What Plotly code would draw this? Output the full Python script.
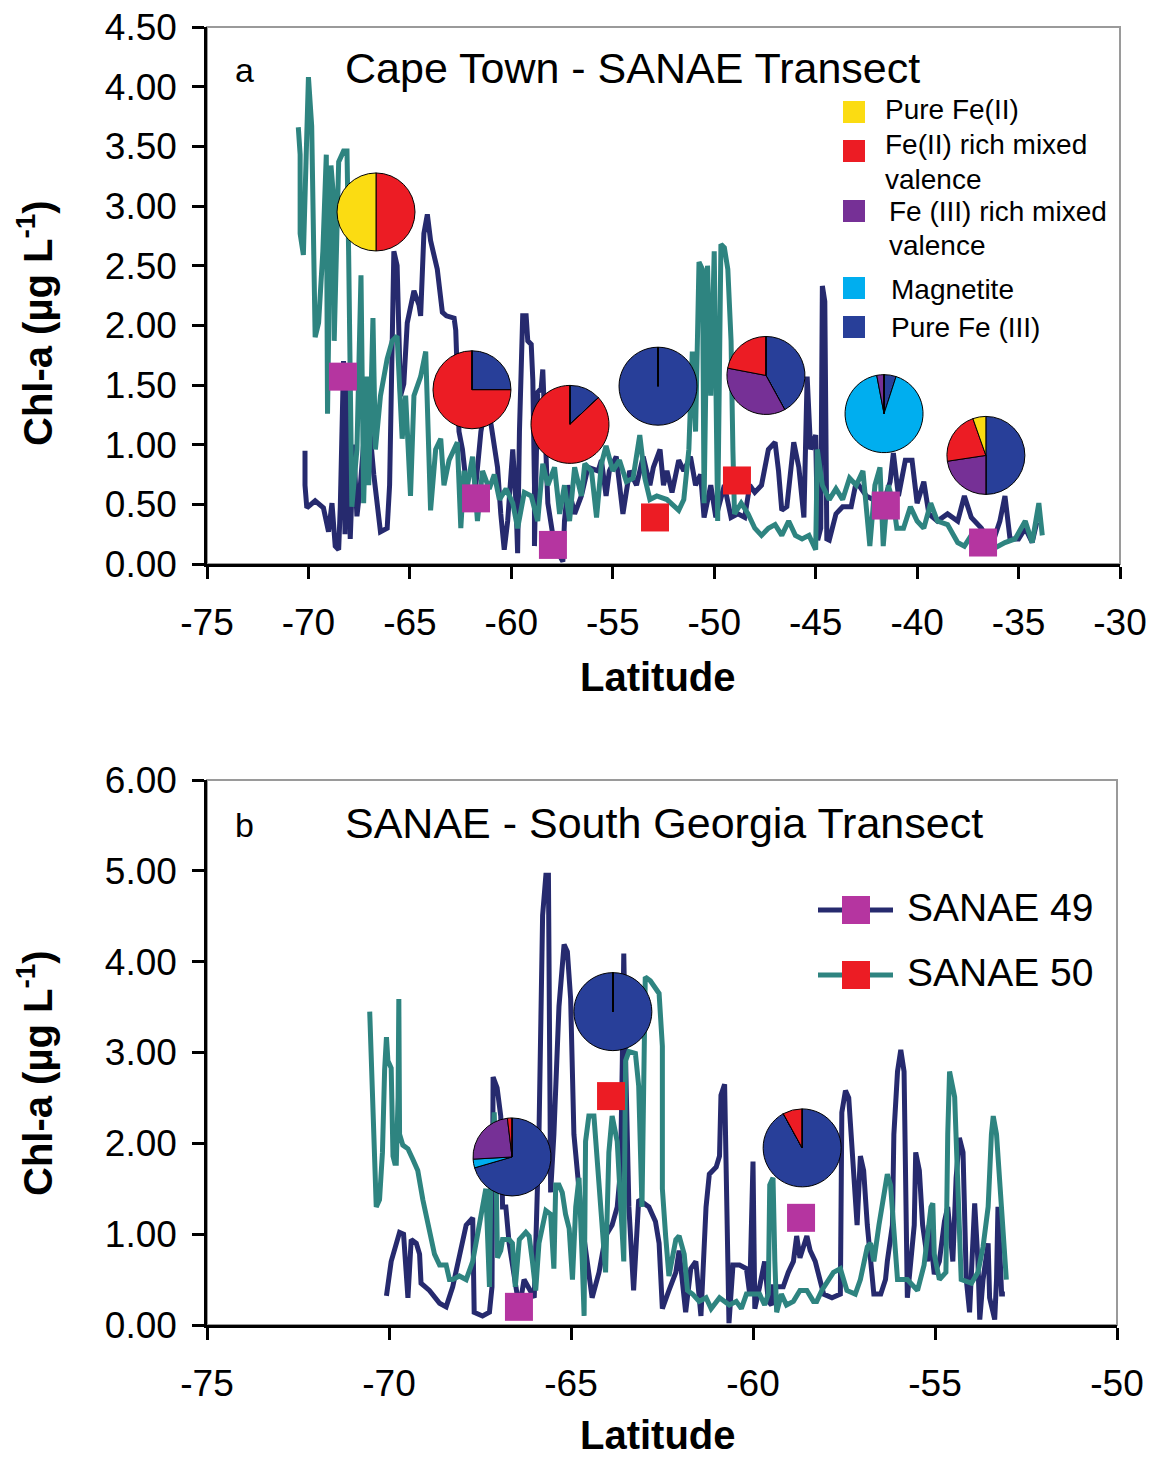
import plotly.graph_objects as go

W, H = 1155, 1457
FONT = "Liberation Sans, Arial, Helvetica, sans-serif"

NAVY = "#262a6e"
TEAL = "#2e8480"
MAGENTA = "#b535a0"
RED = "#ec1c24"
YELLOW = "#fbdc12"
PURPLE = "#763096"
CYAN = "#00aeef"
BLUE = "#283f99"

# ---------------- Panel a: Cape Town - SANAE transect ----------------
A49_LAT = [-70.17, -70.17, -70.08, -69.67, -69.26, -69.01, -68.84, -68.68, -68.51, -68.43,
           -68.27, -68.2, -68.1, -67.94, -67.77, -67.61, -67.44, -67.11, -66.78, -66.45,
           -66.12, -66.0, -65.79, -65.63, -65.46, -65.30, -65.13, -64.80, -64.55, -64.47,
           -64.31, -64.14, -63.98, -63.65, -63.40, -63.2, -62.82, -62.74, -62.66, -62.58,
           -62.41, -62.33, -62.08, -61.75, -61.50, -61.34, -61.17, -61.0, -60.68, -60.52,
           -60.35, -60.18, -59.93, -59.77, -59.69, -59.6, -59.52, -59.44, -59.27, -59.19,
           -59.02, -58.94, -58.86, -58.86, -58.70, -58.53, -58.45, -58.37, -58.20, -57.87,
           -57.46, -57.38, -57.21, -56.88, -56.55, -56.22, -55.72, -55.56,
           -55.33, -55.17, -54.83, -54.5, -54.17, -53.83, -53.5, -53.17, -53.0, -52.67,
           -52.5, -52.33, -52.08, -51.75, -51.5, -51.17, -50.92, -50.67, -50.5, -50.17,
           -49.92, -49.5, -49.17, -48.83, -48.5, -48.25, -48.0, -47.67, -47.33, -47.0,
           -46.83, -46.67, -46.42, -46.08, -45.83, -45.58, -45.42, -45.25, -45.0, -44.9,
           -44.75, -44.67, -44.55, -44.45, -44.33, -44.0, -43.67, -43.25, -43.0, -42.5,
           -42.17, -41.83, -41.33, -41.17, -40.92, -40.58, -40.25, -40.0, -39.67, -39.42,
           -39.0, -38.5, -38.0, -37.67, -37.33, -36.83, -36.33, -35.92, -35.67, -35.42,
           -35.0, -34.67, -34.33, -34.1]
A49_CHL = [0.95, 0.66, 0.47, 0.53, 0.47, 0.27, 0.51, 0.15, 0.12, 0.48,
           1.70, 0.25, 1.60, 0.21, 1.00, 0.40, 0.66, 1.38, 0.75, 0.27,
           0.30, 0.66, 2.62, 2.50, 1.41, 1.51, 2.02, 2.29, 2.17, 2.08,
           2.77, 2.93, 2.71, 2.47, 2.11, 2.08, 2.06, 1.96, 1.57, 1.11,
           0.96, 0.81, 0.45, 0.66, 1.11, 1.26, 1.26, 1.17, 0.81, 0.42,
           0.12, 0.36, 0.96, 0.51, 0.09, 1.11, 1.87, 2.08, 2.08, 1.87,
           1.84, 1.54, 0.66, 0.15, 1.44, 1.47, 1.63, 1.26, 0.51, 0.15,
           0.02, 0.36, 0.66, 0.42, 0.57, 0.81, 0.78, 0.87,
           0.57, 0.78, 0.90, 0.42, 0.78, 0.66, 0.90, 0.66, 0.81, 0.96,
           0.66, 0.78, 0.60, 0.87, 0.78, 0.90, 0.66, 0.75, 0.39, 0.66,
           0.39, 0.66, 0.39, 0.42, 0.39, 0.66, 0.60, 0.66, 0.96, 1.02,
           0.78, 0.45, 0.48, 1.02, 0.81, 0.39, 1.57, 0.96, 1.08, 0.20,
           0.30, 2.33, 2.20, 0.21, 0.20, 0.42, 0.48, 0.48, 0.69, 0.57,
           0.54, 0.42, 0.69, 0.93, 0.57, 0.87, 0.87, 0.51, 0.69, 0.42,
           0.36, 0.42, 0.36, 0.57, 0.39, 0.30, 0.15, 0.36, 0.57, 0.21,
           0.21, 0.30, 0.18, 0.35]

A50_LAT = [-70.50, -70.41, -70.41, -70.25, -70.12, -70.0, -69.84, -69.67, -69.67, -69.5,
           -69.29, -69.12, -69.1, -69.06, -68.89, -68.76, -68.73, -68.51, -68.27, -68.1,
           -68.02, -67.94, -67.86, -67.61, -67.41, -67.28, -67.11, -67.03, -66.82, -66.7,
           -66.45, -66.12, -65.87, -65.63, -65.46, -65.38, -65.21, -64.97, -64.80, -64.47,
           -64.22, -63.98, -63.73, -63.48, -63.32, -63.07, -62.66, -62.49, -62.33, -62.16,
           -61.91, -61.67, -61.42, -61.09, -60.84, -60.59, -60.26, -59.93, -59.69, -59.36,
           -59.02, -58.70, -58.45, -58.2, -57.87, -57.62, -57.38, -57.13, -56.88, -56.55,
           -56.38, -56.05, -55.80, -55.56,
           -55.33, -55.0, -54.67, -54.33, -54.0, -53.67, -53.42, -53.17, -52.83, -52.33,
           -51.75, -51.5, -51.25, -51.08, -50.92, -50.75, -50.58, -50.5, -50.33, -50.17,
           -50.0, -49.83, -49.67, -49.5, -49.33, -49.17, -49.08, -49.0, -48.67, -48.33,
           -48.0, -47.67, -47.33, -47.0, -46.67, -46.33, -46.0, -45.67, -45.33, -45.08,
           -45.0, -44.92, -44.67, -44.33, -44.0, -43.67, -43.33, -43.0, -42.67, -42.33,
           -42.08, -41.83, -41.67, -41.42, -41.17, -41.0, -40.67, -40.33, -40.0, -39.67,
           -39.33, -39.0, -38.5, -38.0, -37.67, -37.33, -36.83, -36.33, -35.67, -35.17,
           -34.67, -34.33, -34.0, -33.83]
A50_CHL = [3.66, 3.43, 2.77, 2.59, 3.37, 4.08, 3.67, 2.32, 1.90, 2.02,
           2.62, 3.43, 2.77, 1.26, 3.34, 3.07, 1.87, 3.37, 3.46, 3.46,
           2.62, 1.57, 0.48, 0.96, 2.42, 0.51, 1.57, 0.66, 2.06, 0.96,
           1.41, 1.72, 1.87, 1.91, 1.41, 1.05, 1.41, 0.57, 1.41, 1.57,
           1.78, 0.45, 0.96, 1.05, 0.66, 0.87, 1.02, 0.30, 0.78, 0.66,
           0.90, 0.36, 0.78, 0.63, 0.75, 0.54, 0.63, 0.51, 0.30, 0.60,
           0.57, 0.36, 0.84, 0.66, 0.81, 0.42, 0.66, 0.36, 0.81, 0.57,
           0.84, 0.78, 0.39, 0.84,
           0.99, 0.78, 0.87, 0.69, 0.72, 1.08, 0.72, 0.54, 0.57, 0.54,
           0.45, 0.54, 0.96, 1.78, 1.11, 2.53, 2.47, 0.51, 2.50, 1.41,
           2.62, 0.36, 2.68, 2.65, 2.47, 1.87, 0.96, 0.42, 0.51, 0.42,
           0.30, 0.24, 0.30, 0.33, 0.24, 0.36, 0.24, 0.21, 0.24, 0.15,
           0.12, 0.96, 0.66, 0.54, 0.63, 0.54, 0.72, 0.66, 0.78, 0.15,
           0.66, 0.81, 0.15, 0.66, 0.51, 0.30, 0.30, 0.48, 0.36, 0.30,
           0.51, 0.36, 0.33, 0.18, 0.15, 0.24, 0.15, 0.12, 0.18, 0.21,
           0.36, 0.18, 0.51, 0.24]

A49_PT_LAT = [-68.30, -61.74, -57.95, -41.54, -36.75]
A49_PT_CHL = [1.57, 0.55, 0.16, 0.49, 0.18]
A50_PT_LAT = [-52.92, -48.88]
A50_PT_CHL = [0.39, 0.70]

# ---------------- Panel b: SANAE - South Georgia transect ----------------
B49_LAT = [-70.07, -69.94, -69.71, -69.60, -69.48, -69.39, -69.25, -69.16, -69.12, -68.89,
           -68.61, -68.43, -68.25, -68.07, -67.88, -67.70, -67.66, -67.43, -67.24, -67.17,
           -67.14, -67.03, -66.93, -66.88, -66.79, -66.70, -66.56, -66.42, -66.29, -66.01,
           -65.88, -65.83, -65.78, -65.69, -65.62, -65.56, -65.47, -65.33, -65.19, -65.10,
           -65.01, -64.92, -64.78, -64.69, -64.42, -64.23, -64.05, -63.87, -63.73, -63.64,
           -63.59, -63.55, -63.50, -63.41, -63.28, -63.14,
           -62.86, -62.68, -62.58, -62.49, -62.31, -62.12, -62.03, -61.94, -61.85, -61.71,
           -61.57, -61.43, -61.29, -61.20, -61.01, -60.92, -60.88, -60.78, -60.74, -60.66,
           -60.55, -60.37, -60.18, -60.09, -60.0, -59.95, -59.82, -59.68, -59.58, -59.49,
           -59.45, -59.17, -59.03, -58.89, -58.80, -58.71, -58.52, -58.43, -58.29, -58.06,
           -57.83, -57.60, -57.56, -57.46, -57.37, -57.28, -57.14, -57.05, -56.96, -56.86,
           -56.77, -56.68, -56.49, -56.36, -56.31, -56.17, -56.13, -56.03, -55.94, -55.85,
           -55.76, -55.66, -55.57, -55.53, -55.43, -55.34, -55.20, -55.16, -55.02, -54.88,
           -54.74, -54.65, -54.51, -54.42, -54.33, -54.23, -54.14, -54.05, -53.96, -53.91,
           -53.82, -53.77, -53.68, -53.54, -53.50, -53.36, -53.31, -53.27, -53.17, -53.08]
B49_CHL = [0.32, 0.70, 1.02, 1.00, 0.30, 0.94, 0.90, 0.78, 0.46, 0.38,
           0.24, 0.20, 0.42, 0.78, 1.10, 1.18, 0.14, 0.10, 0.14, 0.42,
           2.73, 2.61, 2.30, 1.30, 1.30, 0.90, 0.54, 0.18, 0.50, 0.30,
           2.10, 3.59, 4.51, 4.95, 4.95, 1.46, 2.10, 3.51, 4.19, 4.11,
           3.59, 2.10, 1.50, 1.10, 0.30, 0.58, 0.98, 1.10, 1.30, 1.70,
           2.91, 4.09, 2.91, 1.30, 0.38, 1.38,
           1.30, 1.14, 0.90, 0.18, 0.38, 0.58, 0.82, 0.50, 0.14, 0.62,
           0.70, 0.10, 1.30, 1.66, 1.74, 1.86, 2.53, 2.65, 1.90, 0.02,
           0.66, 0.66, 0.62, 0.34, 1.80, 0.18, 0.42, 0.70, 0.26, 0.22,
           0.42, 0.42, 0.58, 0.70, 0.98, 0.74, 0.98, 0.82, 0.70, 0.34,
           0.30, 0.34, 2.34, 2.58, 2.50, 1.90, 1.10, 1.86, 1.70, 1.10,
           0.66, 0.34, 0.34, 0.50, 0.70, 1.10, 2.10, 2.79, 3.03, 2.79,
           0.30, 0.70, 1.10, 1.90, 1.70, 1.10, 0.70, 1.10, 0.56, 0.70,
           1.14, 1.30, 0.70, 1.62, 2.06, 1.90, 0.50, 0.14, 0.86, 1.34,
           0.70, 0.06, 0.50, 0.90, 0.30, 0.06, 0.50, 1.30, 0.34, 0.34]

B50_LAT = [-70.53, -70.48, -70.44, -70.39, -70.35, -70.26, -70.18, -70.12, -70.07, -70.03,
           -69.94, -69.89, -69.84, -69.80, -69.75, -69.73, -69.71, -69.62, -69.48, -69.34,
           -69.21, -69.07, -68.89, -68.75, -68.61, -68.43, -68.34, -68.25, -68.07, -67.88,
           -67.70, -67.52, -67.34, -67.24, -67.20, -67.15, -67.11, -67.06, -67.02, -66.93,
           -66.88, -66.70, -66.61, -66.53, -66.42, -66.24, -66.15, -66.06, -65.97, -65.88,
           -65.78, -65.69, -65.56, -65.47, -65.42, -65.33, -65.24, -65.15, -65.05, -64.96,
           -64.87, -64.78, -64.69, -64.64, -64.60, -64.51, -64.37, -64.23, -64.05, -63.96,
           -63.87, -63.73, -63.64, -63.55, -63.50, -63.41, -63.23, -63.14, -63.05, -62.96,
           -62.82, -62.58, -62.49, -62.49, -62.40, -62.31, -62.12, -62.03, -61.89, -61.80,
           -61.66, -61.48, -61.29, -61.15, -60.92, -60.65, -60.46, -60.32, -60.18, -59.82,
           -59.68, -59.58, -59.54, -59.45, -59.40, -59.35, -59.22, -59.08, -58.89, -58.71,
           -58.52, -58.34, -58.25, -58.11, -57.79, -57.60, -57.42, -57.19, -57.05, -56.86,
           -56.77, -56.68, -56.54, -56.40, -56.31, -56.22, -56.13, -56.03, -55.76, -55.48,
           -55.30, -55.11, -55.06, -55.02, -54.88, -54.70, -54.65, -54.60, -54.46, -54.37,
           -54.28, -54.00, -53.82, -53.68, -53.54, -53.45, -53.40, -53.31, -53.22, -53.13,
           -53.04]
B50_CHL = [3.45, 2.79, 2.51, 1.50, 1.30, 1.38, 1.90, 2.81, 3.17, 2.91,
           2.83, 1.86, 1.78, 1.78, 2.51, 3.59, 2.10, 1.98, 1.94, 1.82,
           1.70, 1.38, 1.02, 0.78, 0.66, 0.66, 0.50, 0.50, 0.54, 0.50,
           0.70, 1.10, 1.50, 0.42, 1.70, 1.90, 2.34, 1.70, 0.74, 0.82,
           0.94, 0.94, 0.90, 0.42, 0.94, 1.02, 0.98, 0.70, 0.38, 0.90,
           1.10, 1.26, 1.22, 0.62, 1.54, 1.54, 1.46, 1.22, 1.06, 0.50,
           1.30, 1.62, 0.70, 0.10, 2.02, 2.30, 2.30, 1.62, 0.58, 1.90,
           2.30, 2.02, 1.30, 0.70, 2.91, 3.01, 2.99, 2.63, 1.30, 3.83,
           3.79, 3.65, 3.07, 1.50, 0.98, 0.54, 0.94, 0.98, 0.78, 0.38,
           0.34, 0.26, 0.30, 0.18, 0.30, 0.22, 0.26, 0.18, 0.34, 0.34,
           0.22, 0.34, 1.54, 1.62, 0.70, 0.14, 0.34, 0.22, 0.26, 0.38,
           0.38, 0.26, 0.26, 0.38, 0.58, 0.62, 0.38, 0.34, 0.50, 0.86,
           0.90, 0.70, 1.10, 1.50, 1.66, 1.54, 1.02, 0.50, 0.50, 0.38,
           0.66, 1.30, 1.34, 0.78, 0.50, 0.58, 2.10, 2.79, 2.51, 1.30,
           0.50, 0.46, 0.58, 0.86, 1.30, 2.10, 2.30, 2.10, 1.50, 0.90,
           0.50]

B49_PT_LAT = [-66.43, -58.68]
B49_PT_CHL = [0.20, 1.18]
B50_PT_LAT = [-63.90]
B50_PT_CHL = [2.52]

# ---------------- Pie charts (iron speciation) ----------------
CLASS_NAMES = ["Pure Fe (III)", "Magnetite", "Fe (III) rich mixed valence",
               "Fe(II) rich mixed valence", "Pure Fe(II)"]
CLASS_COLORS = [BLUE, CYAN, PURPLE, RED, YELLOW]

PIE_A_LAT = [-66.67, -61.94, -57.11, -52.77, -47.45, -41.63, -36.61]
PIE_A_CHL = [2.95, 1.46, 1.17, 1.49, 1.58, 1.26, 0.91]
PIE_A_FRAC = [
    [0, 0, 0, 50, 50],
    [25, 0, 0, 75, 0],
    [13, 0, 0, 87, 0],
    [100, 0, 0, 0, 0],
    [42, 0, 36, 22, 0],
    [5, 92, 3, 0, 0],
    [50, 0, 22.6, 22, 5.4],
]
PIE_B_LAT = [-66.62, -63.85, -58.65]
PIE_B_CHL = [1.85, 3.45, 1.95]
PIE_B_FRAC = [
    [70.5, 3.6, 24, 1.9, 0],
    [100, 0, 0, 0, 0],
    [92, 0, 0, 8, 0],
]

# tick values
XA_TICKS = [-75, -70, -65, -60, -55, -50, -45, -40, -35, -30]
XB_TICKS = [-75, -70, -65, -60, -55, -50]

# ---------------- Layout geometry ----------------
def px(x):
    return x / W


def py(y):
    return 1 - y / H


XA_DOM = [px(207), px(1120)]
YA_DOM = [py(564), py(27)]
XB_DOM = [px(207), px(1117)]
YB_DOM = [py(1325), py(780)]
XA_RANGE = [-75, -30]
YA_RANGE = [0, 4.5]
XB_RANGE = [-75, -50]
YB_RANGE = [0, 6]
PIE_R = 39
LW = 5

fig = go.Figure()

# lines
fig.add_trace(go.Scatter(x=A49_LAT, y=A49_CHL, mode="lines", line=dict(color=NAVY, width=LW),
                         name="SANAE 49", xaxis="x", yaxis="y"))
fig.add_trace(go.Scatter(x=A50_LAT, y=A50_CHL, mode="lines", line=dict(color=TEAL, width=LW),
                         name="SANAE 50", xaxis="x", yaxis="y"))
fig.add_trace(go.Scatter(x=B49_LAT, y=B49_CHL, mode="lines", line=dict(color=NAVY, width=LW),
                         name="SANAE 49", xaxis="x2", yaxis="y2"))
fig.add_trace(go.Scatter(x=B50_LAT, y=B50_CHL, mode="lines", line=dict(color=TEAL, width=LW),
                         name="SANAE 50", xaxis="x2", yaxis="y2"))

# square markers
for xs, ys, col, xa, ya in [(A49_PT_LAT, A49_PT_CHL, MAGENTA, "x", "y"),
                            (A50_PT_LAT, A50_PT_CHL, RED, "x", "y"),
                            (B49_PT_LAT, B49_PT_CHL, MAGENTA, "x2", "y2"),
                            (B50_PT_LAT, B50_PT_CHL, RED, "x2", "y2")]:
    fig.add_trace(go.Scatter(x=xs, y=ys, mode="markers",
                             marker=dict(symbol="square", size=28, color=col, line=dict(width=0)),
                             xaxis=xa, yaxis=ya))


def pie_domain(lat, chl, xr, yr, xd, yd):
    fx = xd[0] + (lat - xr[0]) / (xr[1] - xr[0]) * (xd[1] - xd[0])
    fy = yd[0] + (chl - yr[0]) / (yr[1] - yr[0]) * (yd[1] - yd[0])
    return dict(x=[fx - PIE_R / W, fx + PIE_R / W], y=[fy - PIE_R / H, fy + PIE_R / H])


def add_pies(lats, chls, fracs, xr, yr, xd, yd):
    for lat, chl, fr in zip(lats, chls, fracs):
        vals = list(fr)
        if sum(1 for v in vals if v > 0) == 1:
            vals[-1] = 1e-3  # keeps the boundary line at 12 o'clock
        fig.add_trace(go.Pie(values=vals, labels=CLASS_NAMES, sort=False,
                             direction="clockwise", rotation=0, textinfo="none",
                             marker=dict(colors=CLASS_COLORS, line=dict(color="black", width=1)),
                             domain=pie_domain(lat, chl, xr, yr, xd, yd),
                             showlegend=False))


add_pies(PIE_A_LAT, PIE_A_CHL, PIE_A_FRAC, XA_RANGE, YA_RANGE, XA_DOM, YA_DOM)
add_pies(PIE_B_LAT, PIE_B_CHL, PIE_B_FRAC, XB_RANGE, YB_RANGE, XB_DOM, YB_DOM)

axis_common = dict(showgrid=False, zeroline=False, showline=True, linecolor="black", linewidth=2.5,
                   ticks="outside", ticklen=12, tickwidth=2.5, tickcolor="black", automargin=False,
                   tickfont=dict(family=FONT, size=37, color="black"))

fig.update_layout(
    width=W, height=H, margin=dict(l=0, r=0, t=0, b=0, pad=0, autoexpand=False),
    paper_bgcolor="white", plot_bgcolor="white", showlegend=False,
    font=dict(family=FONT, color="black"),
    xaxis=dict(domain=XA_DOM, range=XA_RANGE, tickmode="array", tickvals=XA_TICKS,
               ticktext=[str(v) for v in XA_TICKS], anchor="y",
               ticklabelstandoff=12, **axis_common),
    yaxis=dict(domain=YA_DOM, range=YA_RANGE, tick0=0, dtick=0.5, tickformat=".2f", anchor="x",
               ticklabelstandoff=8, **axis_common),
    xaxis2=dict(domain=XB_DOM, range=XB_RANGE, tickmode="array", tickvals=XB_TICKS,
                ticktext=[str(v) for v in XB_TICKS], anchor="y2",
                ticklabelstandoff=12, **axis_common),
    yaxis2=dict(domain=YB_DOM, range=YB_RANGE, tick0=0, dtick=1, tickformat=".2f", anchor="x2",
                ticklabelstandoff=8, **axis_common),
)

shapes = []
# gray plot frames
for xr_, yr_ in [("x", "y"), ("x2", "y2")]:
    shapes.append(dict(type="rect", xref=f"{xr_} domain", yref=f"{yr_} domain", x0=0, x1=1, y0=0, y1=1,
                       line=dict(color="#9a9a9a", width=2), layer="below"))

annotations = []


def ann(text, x, y, size, xanchor="left", yanchor="middle", bold=False, angle=0):
    t = f"<b>{text}</b>" if bold else text
    annotations.append(dict(text=t, x=px(x), y=py(y), xref="paper", yref="paper", showarrow=False,
                            xanchor=xanchor, yanchor=yanchor, textangle=angle,
                            font=dict(family=FONT, size=size, color="black")))


# panel labels and titles
ann("a", 233, 70, 34)
ann("Cape Town - SANAE Transect", 343, 68, 43)
ann("b", 233, 825, 34)
ann("SANAE - South Georgia Transect", 343, 823, 43)

# axis titles
ann("Latitude", 658, 677, 40, xanchor="center", bold=True)
ann("Latitude", 658, 1435, 40, xanchor="center", bold=True)
ann("Chl-a (µg L<sup>-1</sup>)", 35, 323, 40, xanchor="center", bold=True, angle=-90)
ann("Chl-a (µg L<sup>-1</sup>)", 35, 1073, 40, xanchor="center", bold=True, angle=-90)

# pie colour key (panel a)
KEY_ITEMS = [(YELLOW, 112, ["Pure Fe(II)"], [110], 883),
             (RED, 151, ["Fe(II) rich mixed", "valence"], [145, 179], 883),
             (PURPLE, 211, ["Fe (III) rich mixed", "valence"], [211, 245], 887),
             (CYAN, 288, ["Magnetite"], [289], 889),
             (BLUE, 327, ["Pure Fe (III)"], [327], 889)]
for col, sy, lines, ys, tx in KEY_ITEMS:
    shapes.append(dict(type="rect", xref="paper", yref="paper", x0=px(843), x1=px(865),
                       y0=py(sy + 11), y1=py(sy - 11), fillcolor=col, line=dict(width=0)))
    for ln, yy in zip(lines, ys):
        ann(ln, tx, yy, 28)

# series legend (panel b)
for col, mcol, yy, label in [(NAVY, MAGENTA, 910, "SANAE 49"), (TEAL, RED, 975, "SANAE 50")]:
    shapes.append(dict(type="line", xref="paper", yref="paper", x0=px(818), x1=px(893),
                       y0=py(yy), y1=py(yy), line=dict(color=col, width=5)))
    shapes.append(dict(type="rect", xref="paper", yref="paper", x0=px(842), x1=px(870),
                       y0=py(yy + 14), y1=py(yy - 14), fillcolor=mcol, line=dict(width=0)))
    ann(label, 905, yy - 3, 39)

fig.update_layout(shapes=shapes, annotations=annotations)

fig.write_html("out.html", config={"displayModeBar": False},
               post_script="document.body.style.margin='0px';document.body.style.overflow='hidden';")
